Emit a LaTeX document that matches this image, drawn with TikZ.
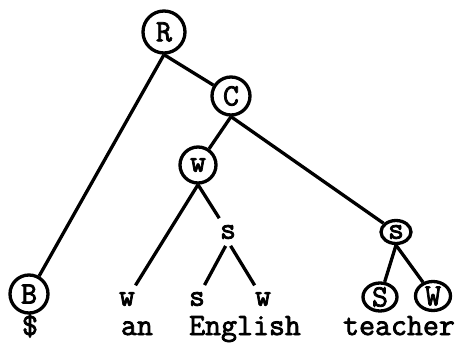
\documentclass[tikz,border=0pt]{standalone}
\usepackage{fontspec}
\newfontfamily\typew{Latin Modern Mono}[AutoFakeBold=2.5]
\usetikzlibrary{shapes.geometric}

\begin{document}
\begin{tikzpicture}[x=1pt, y=-1pt, line width=3.3pt,
    lab/.style={font=\typew\bfseries\fontsize{31}{31}\selectfont, inner sep=0pt},
    ring/.style={lab, draw, circle},
    oval/.style={lab, draw, ellipse},
    bare/.style={lab, inner sep=1pt},
    tobare/.style={shorten >=5pt},
    frombare/.style={shorten <=5pt}]
    \useasboundingbox (0,0) rectangle (458,343);

    % 1. Circled nodes of the tree
    \node[ring, minimum size=42pt] (R) at (164,32) {R};
    \node[ring, minimum size=38pt] (C) at (231,96) {C};
    \node[ring, minimum size=36pt] (W) at (198,165) {w};
    \node[oval, minimum width=30pt, minimum height=23pt] (S) at (396,232) {s};
    \node[ring, minimum size=38pt] (B) at (29,294) {B};
    \node[oval, minimum width=34pt, minimum height=28pt] (S2) at (380,297) {S};
    \node[oval, minimum width=35pt, minimum height=29pt] (W2) at (433,296) {W};

    % 2. Plain labels
    \node[bare] (s) at (228,232) {s};
    \node[bare] (w1) at (127,299) {w};
    \node[bare] (s1) at (197,299) {s};
    \node[bare] (w2) at (263,299) {w};

    % 3. Words under the leaves
    \node[lab, anchor=base] (dollar) at (30,335) {\$};
    \node[lab, anchor=base] (an) at (137,335) {an};
    \node[lab, anchor=base] (English) at (245,335) {English};
    \node[lab, anchor=base] (teacher) at (399,335) {teacher};

    % 4. Branches
    \draw (R.south) -- (B);
    \draw (R.south) -- (C);
    \draw (C.south) -- (W);
    \draw (C.south) -- (S);
    \draw[tobare] (W.south) -- (w1);
    \draw[tobare] (W.south) -- (s);
    \draw[tobare, frombare] (s.south) -- (s1);
    \draw[tobare, frombare] (s.south) -- (w2);
    \draw (S.south) -- (S2);
    \draw (S.south) -- (W2);

\end{tikzpicture}
\end{document}
